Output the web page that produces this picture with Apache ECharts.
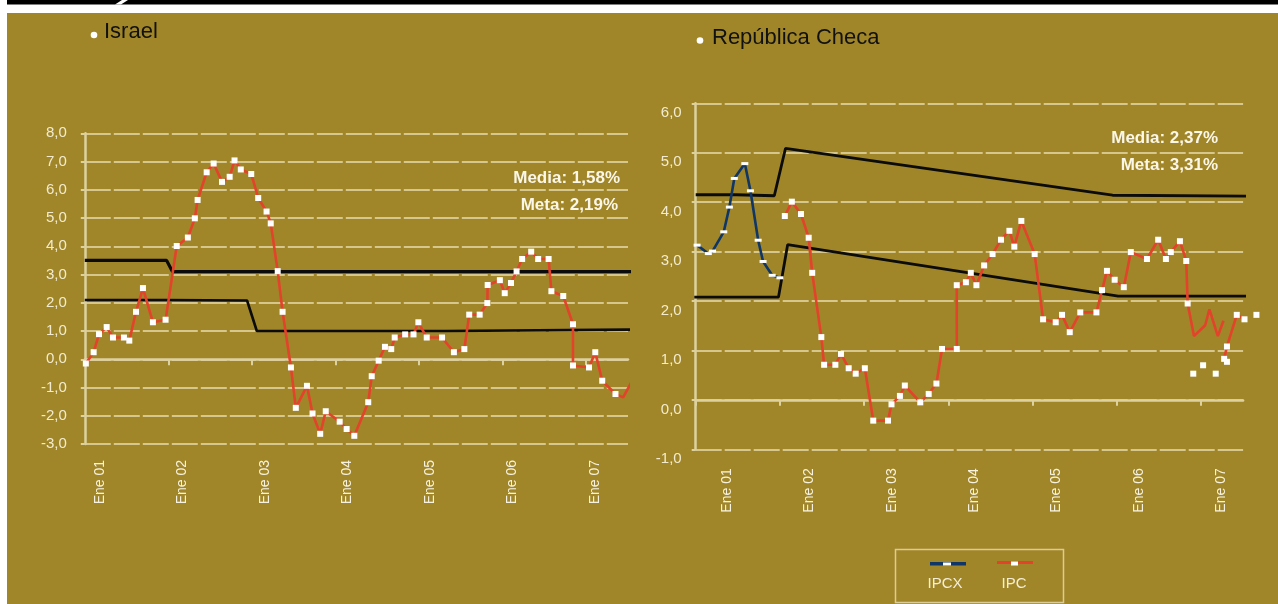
<!DOCTYPE html>
<html><head><meta charset="utf-8">
<script src="https://cdn.jsdelivr.net/npm/echarts@6/dist/echarts.min.js"></script>
<style>html,body{margin:0;padding:0;background:#fff;overflow:hidden}#c{width:1278px;height:604px}</style>
</head><body><div id="c"></div>
<script>
// ---------- data (months counted from Ene 01 = 0) ----------
const yearLabels = ['Ene 01','Ene 02','Ene 03','Ene 04','Ene 05','Ene 06','Ene 07'];

// Israel - IPC
const israelMonths = [0.15,1.27,2.04,3.14,4.05,5.62,6.39,7.35,8.35,9.78,11.6,13.2,14.8,15.8,16.2,17.5,18.5,19.7,20.8,21.5,22.4,23.9,24.9,26.1,26.7,27.7,28.4,29.6,30.3,31.9,32.7,33.8,34.6,36.6,37.6,38.7,40.7,41.2,42.2,43.1,44.0,44.5,46.0,47.2,47.9,49.1,51.3,53.0,54.5,55.2,56.7,57.8,57.85,59.6,60.3,61.2,62.0,62.8,64.1,65.1,66.6,67.0,68.7,70.1,70.1,72.4,73.3,74.3,76.2];
const israelIpc = [-0.15,0.25,0.89,1.14,0.77,0.77,0.66,1.68,2.52,1.31,1.40,4.01,4.31,4.99,5.64,6.62,6.93,6.28,6.46,7.04,6.72,6.56,5.71,5.23,4.81,3.12,1.68,-0.29,-1.72,-0.94,-1.92,-2.64,-1.84,-2.21,-2.47,-2.71,-1.52,-0.60,-0.05,0.44,0.36,0.77,0.88,0.88,1.31,0.77,0.77,0.25,0.36,1.58,1.58,1.99,2.63,2.80,2.34,2.70,3.11,3.55,3.81,3.55,3.55,2.41,2.24,1.24,-0.22,-0.29,0.25,-0.76,-1.23];
// Israel - IPC, last months (line only)
const israelTailMonths = [76.2,77.3,78.7];
const israelTail = [-1.23,-1.35,-0.71];
// Israel - target band
const israelTopMonths = [0,11.75,12.6,78.7];
const israelTop = [3.5,3.5,3.1,3.1];
const israelLowMonths = [0,11.5,11.6,23.3,24.7,51.8,51.9,78.7];
const israelLow = [2.1,2.1,2.08,2.08,1.0,1.0,1.05,1.05];

// República Checa - IPCX
const ipcxMonths = [0.2,1.8,2.4,4.0,4.8,5.5,7.0,7.8,8.9,9.6,10.9,12.0];
const ipcx = [3.13,2.96,3.01,3.40,3.90,4.48,4.78,4.23,3.23,2.80,2.52,2.47];
const ipcxLateMonths = [70.9,72.3,74.1,75.7];
const ipcxLate = [0.53,0.70,0.53,0.77];
// República Checa - IPC
const czMonths = [12.7,13.7,15.0,16.1,16.6,17.9,18.3,19.9,20.7,21.8,22.8,24.1,25.3,27.4,27.9,29.1,29.8,32.0,33.2,34.3,35.1,37.2,37.2,38.5,39.2,40.0,41.1,42.3,43.5,44.7,45.4,46.4,48.3,49.5,51.3,52.2,53.3,54.8,57.1,57.9,58.6,59.7,61.0,62.0,64.3,65.9,67.0,67.7,69.0,69.9,70.1];
const czIpc = [3.72,4.01,3.76,3.28,2.57,1.27,0.71,0.71,0.93,0.64,0.53,0.64,-0.42,-0.42,-0.09,0.08,0.29,-0.05,0.12,0.33,1.03,1.03,2.32,2.38,2.57,2.32,2.72,2.95,3.24,3.42,3.10,3.62,2.95,1.63,1.57,1.72,1.37,1.77,1.77,2.22,2.61,2.43,2.28,2.99,2.85,3.24,2.85,2.99,3.21,2.81,1.95];
// República Checa - IPC 2007 path drawn without markers
const czLateMonths = [70.1,71.0,72.6,73.2,74.4,75.2];
const czLate = [1.95,1.29,1.51,1.83,1.29,1.60];
// República Checa - IPC last segment
const czEndMonths = [75.3,75.7,77.1,78.2,79.9];
const czEnd = [0.83,1.08,1.72,1.63,1.72];
// República Checa - target band
const czTopMonths = [0,5.8,5.8,11.2,12.8,59.4,79.2];
const czTop = [4.15,4.15,4.13,4.13,5.09,4.14,4.12];
const czLowMonths = [-0.2,11.8,13.1,60.2,79.7];
const czLow = [2.08,2.08,3.14,2.10,2.10];

const notes = {
  israel: ['Media: 1,58%', 'Meta: 2,19%'],
  czech: ['Media: 2,37%', 'Meta: 3,31%']
};
const titles = ['Israel', 'República Checa'];
const legendNames = ['IPCX', 'IPC'];

// ---------- styling ----------
const OLIVE = '#A08628';
const GRID_C = '#D5C78E';
const AXIS_C = '#DDD1A0';
const LABEL_C = '#F2EBCF';
const RED = '#E3432B';
const NAVY = '#0F3666';
const SANS = '"Liberation Sans",Arial,sans-serif';

const zip = (xs, ys) => xs.map((x, i) => [x, ys[i] === null ? '-' : ys[i]]);
const fmtY = v => v.toFixed(1).replace('.', ',');

function xAxisFor(gi, labelStart, labelStep, margin) {
  const tickVals = yearLabels.map((_, k) => k * 12);
  const labVals = yearLabels.map((_, k) => labelStart + k * labelStep);
  return {
    type: 'value', gridIndex: gi, min: 0, max: 78, interval: 12,
    splitLine: { show: false },
    axisLine: { show: true, lineStyle: { color: AXIS_C, width: 2.5 } },
    axisTick: { show: true, length: 6, customValues: tickVals, lineStyle: { color: AXIS_C, width: 2 } },
    axisLabel: {
      customValues: labVals, rotate: 90, margin: margin,
      color: '#F7F2DF', fontFamily: SANS, fontSize: 14,
      formatter: v => yearLabels[Math.round((v - labelStart) / labelStep)] || ''
    }
  };
}
function yAxisFor(gi, min, max, margin, vAlign, padTop) {
  return {
    type: 'value', gridIndex: gi, min: min, max: max, interval: 1,
    axisLine: { show: true, onZero: false, lineStyle: { color: AXIS_C, width: 2.5 } },
    axisTick: { show: true, length: 4, lineStyle: { color: AXIS_C, width: 2 } },
    splitLine: { show: true, lineStyle: { color: GRID_C, width: 2, type: [26, 3] } },
    axisLabel: { margin: margin, color: LABEL_C, fontFamily: SANS, fontSize: 15,
      verticalAlign: vAlign, padding: [padTop, 0, 0, 0], formatter: fmtY }
  };
}
const base = { type: 'line', clip: false, animation: false, silent: true };
function redLine(xi, data, markers) {
  return Object.assign({}, base, {
    name: 'IPC', xAxisIndex: xi, yAxisIndex: xi, data: data, z: 4,
    symbol: markers ? 'rect' : 'none', symbolSize: 6, showAllSymbol: true,
    itemStyle: { color: '#fff', opacity: 1 },
    lineStyle: { color: RED, width: 2.6 }
  });
}
function bandLine(xi, data, w) {
  return Object.assign({}, base, {
    xAxisIndex: xi, yAxisIndex: xi, data: data, z: 3, symbol: 'none',
    lineStyle: { color: '#0b0b0b', width: w }
  });
}

const chart = echarts.init(document.getElementById('c'), null, { renderer: 'canvas' });

const bg = [
  { type: 'rect', z: -10, shape: { x: 7, y: 13, width: 1271, height: 591 }, style: { fill: OLIVE } },
  { type: 'rect', z: -10, shape: { x: 7, y: 0, width: 1271, height: 4.5 }, style: { fill: '#000' } },
  { type: 'polygon', z: -9, shape: { points: [[122, 0], [128, 0], [121, 4.5], [115, 4.5]] }, style: { fill: '#fff' } }
];
const titleEls = [
  { type: 'text', x: 104, y: 43, style: { text: titles[0], fill: '#111', font: '22px ' + SANS, textVerticalAlign: 'bottom' } },
  { type: 'circle', shape: { cx: 94, cy: 35, r: 3.3 }, style: { fill: '#fff' } },
  { type: 'text', x: 712, y: 49, style: { text: titles[1], fill: '#111', font: '22px ' + SANS, textVerticalAlign: 'bottom' } },
  { type: 'circle', shape: { cx: 700, cy: 40.5, r: 3.3 }, style: { fill: '#fff' } }
];
const noteStyle = { fill: '#FBF7E8', font: 'bold 17px ' + SANS, textAlign: 'right', textVerticalAlign: 'bottom' };
const noteEls = [
  { type: 'text', x: 620, y: 187, style: Object.assign({ text: notes.israel[0] }, noteStyle) },
  { type: 'text', x: 618, y: 214, style: Object.assign({ text: notes.israel[1] }, noteStyle) },
  { type: 'text', x: 1218, y: 147, style: Object.assign({ text: notes.czech[0] }, noteStyle) },
  { type: 'text', x: 1218, y: 174, style: Object.assign({ text: notes.czech[1] }, noteStyle) }
];
const legendEls = [
  { type: 'rect', shape: { x: 895.5, y: 549.5, width: 168, height: 53 }, style: { fill: 'none', stroke: '#D9CC98', lineWidth: 1.5 } },
  { type: 'rect', shape: { x: 930, y: 562, width: 36, height: 3.6 }, style: { fill: NAVY } },
  { type: 'rect', shape: { x: 943, y: 562.5, width: 8, height: 3 }, style: { fill: '#fff' } },
  { type: 'rect', shape: { x: 997, y: 561, width: 36, height: 3 }, style: { fill: RED } },
  { type: 'rect', shape: { x: 1011, y: 561.5, width: 7, height: 4 }, style: { fill: '#fff' } },
  { type: 'text', x: 945, y: 591, style: { text: legendNames[0], fill: '#F4EED6', font: '15px ' + SANS, textAlign: 'center', textVerticalAlign: 'bottom' } },
  { type: 'text', x: 1014, y: 591, style: { text: legendNames[1], fill: '#F4EED6', font: '15px ' + SANS, textAlign: 'center', textVerticalAlign: 'bottom' } }
];

chart.setOption({
  backgroundColor: '#fff',
  animation: false,
  textStyle: { fontFamily: SANS },
  grid: [
    { left: 84.8, top: 133.3, width: 543.2, height: 310.7 },
    { left: 695.7, top: 103.3, width: 547.4, height: 346 }
  ],
  xAxis: [ xAxisFor(0, 2.2, 11.84, 16), xAxisFor(1, 4.5, 11.73, 19) ],
  yAxis: [ yAxisFor(0, -3, 8, 18, 'middle', 0), yAxisFor(1, -1, 6, 14, 'top', 2) ],
  graphic: { elements: bg.concat(titleEls, noteEls, legendEls) },
  series: [
    bandLine(0, zip(israelTopMonths, israelTop), 3.2),
    bandLine(0, zip(israelLowMonths, israelLow), 2.6),
    redLine(0, zip(israelMonths, israelIpc), true),
    redLine(0, zip(israelTailMonths, israelTail), false),
    bandLine(1, zip(czTopMonths, czTop), 2.8),
    bandLine(1, zip(czLowMonths, czLow), 2.8),
    Object.assign({}, base, {
      name: 'IPCX', xAxisIndex: 1, yAxisIndex: 1, data: zip(ipcxMonths, ipcx), z: 4,
      symbol: 'rect', symbolSize: [7, 3], showAllSymbol: true,
      itemStyle: { color: '#fff', opacity: 1 }, lineStyle: { color: NAVY, width: 2.6 }
    }),
    redLine(1, zip(czMonths, czIpc), true),
    redLine(1, zip(czLateMonths, czLate), false),
    redLine(1, zip(czEndMonths, czEnd), true),
    {
      type: 'scatter', name: 'IPCX', xAxisIndex: 1, yAxisIndex: 1, silent: true, animation: false,
      data: zip(ipcxLateMonths, ipcxLate), symbol: 'rect', symbolSize: 6, z: 5,
      itemStyle: { color: '#fff', opacity: 1 }
    }
  ]
});
</script></body></html>
